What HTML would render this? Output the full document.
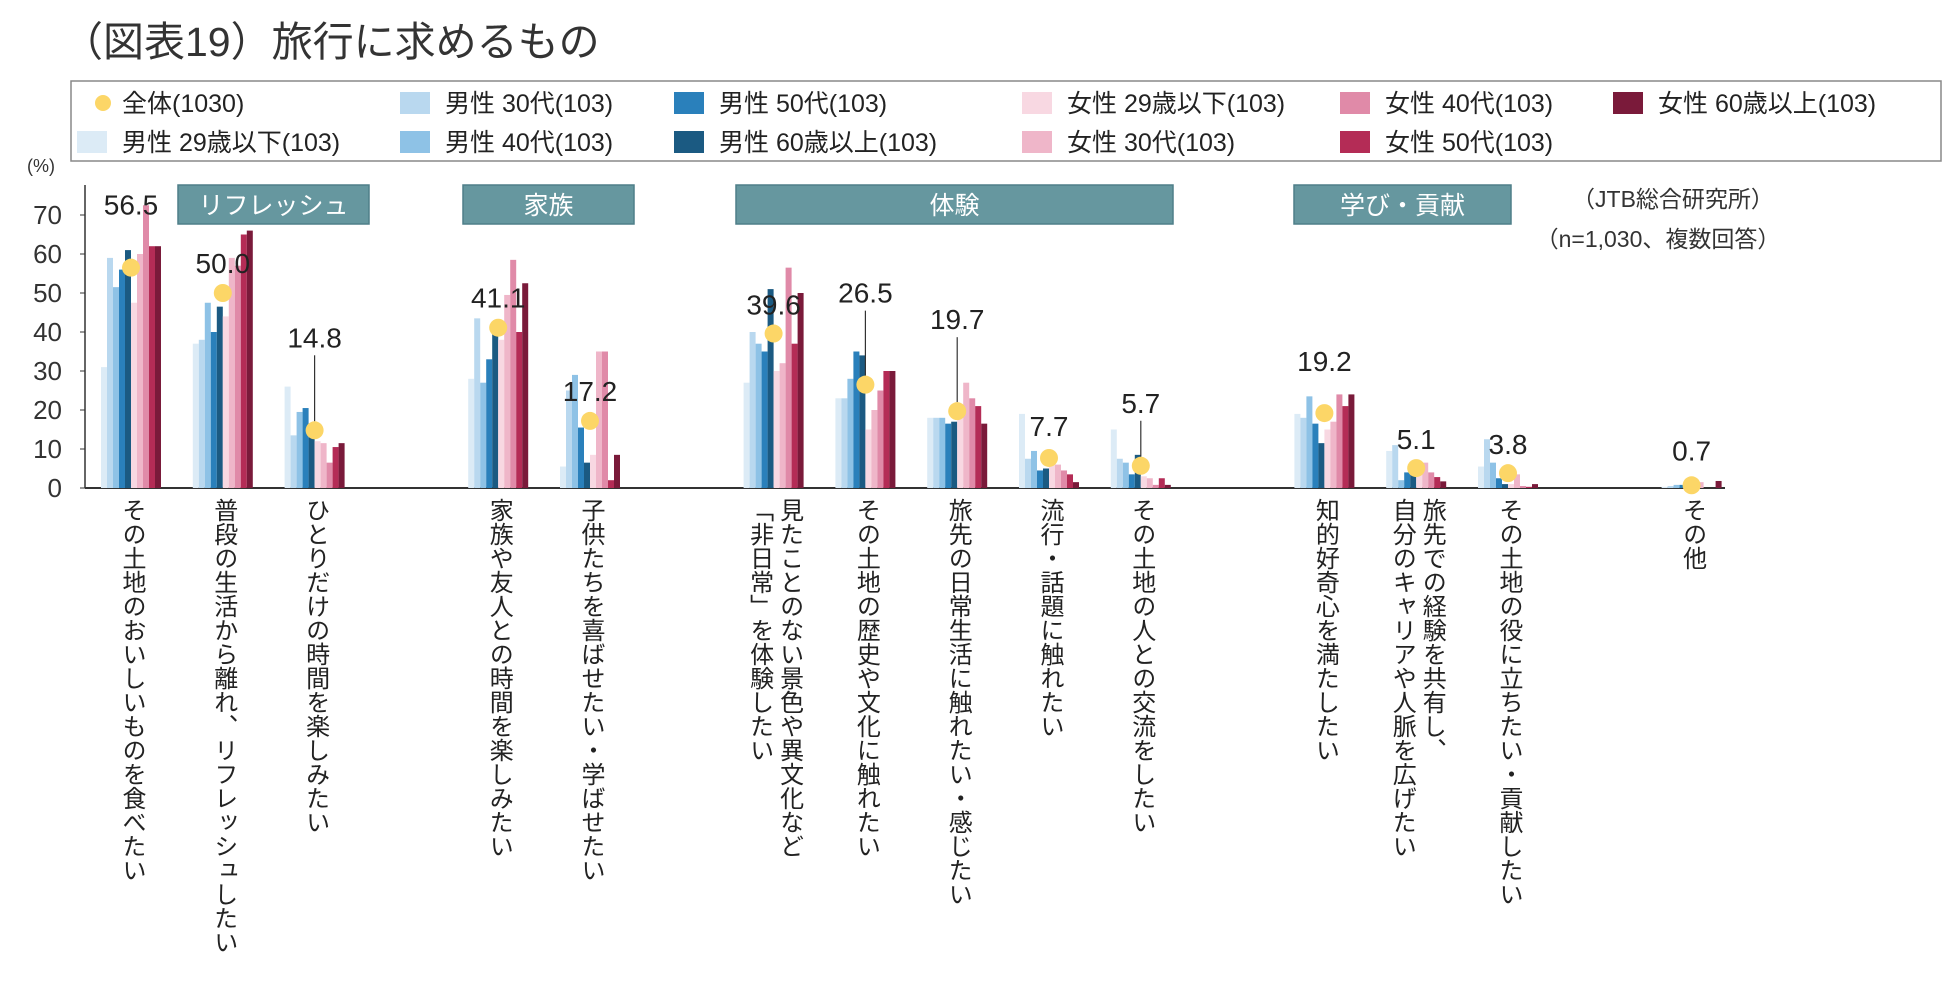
<!DOCTYPE html>
<html><head><meta charset="utf-8">
<style>
body{margin:0;background:#fff;width:1950px;height:990px;overflow:hidden;font-family:"Liberation Sans","Noto Sans CJK JP",sans-serif;color:#222}
svg text{font-family:"Liberation Sans","Noto Sans CJK JP",sans-serif}
</style></head><body>
<svg id="chart" width="1950" height="990">
<text x="62" y="56" font-size="41" fill="#333">（図表19）旅行に求めるもの</text>
<rect x="71" y="81" width="1870" height="80" fill="#fff" stroke="#888" stroke-width="1.5"/>
<g id="legend"></g>
<g id="headers"></g>
<text x="1673" y="207" font-size="23" text-anchor="middle" fill="#333">（JTB総合研究所）</text>
<text x="1658" y="247" font-size="23" text-anchor="middle" fill="#333">（n=1,030、複数回答）</text>
<text x="27" y="172" font-size="18" fill="#333">(%)</text>
<g id="yaxis"></g>
<g id="bars"></g>
<g id="overall"></g>
</svg>
<div id="cats"></div>
<script>
const categories=["その土地のおいしいものを食べたい","普段の生活から離れ、リフレッシュしたい","ひとりだけの時間を楽しみたい","家族や友人との時間を楽しみたい","子供たちを喜ばせたい・学ばせたい","見たことのない景色や異文化など<br>「非日常」を体験したい","その土地の歴史や文化に触れたい","旅先の日常生活に触れたい・感じたい","流行・話題に触れたい","その土地の人との交流をしたい","知的好奇心を満たしたい","旅先での経験を共有し、<br>自分のキャリアや人脈を広げたい","その土地の役に立ちたい・貢献したい","その他"];
const groupOf=[0,0,0,1,1,2,2,2,2,2,3,3,3,4];
const seriesNames=["男性 29歳以下(103)","男性 30代(103)","男性 40代(103)","男性 50代(103)","男性 60歳以上(103)","女性 29歳以下(103)","女性 30代(103)","女性 40代(103)","女性 50代(103)","女性 60歳以上(103)"];
const m29=[31,37,26,28,5.5,27,23,18,19,15,19,9.5,5.5,0.3];
const m30=[59,38,13.5,43.5,25,40,23,18,7.5,7.5,18,11,12.5,0.5];
const m40=[51.5,47.5,19.5,27,29,37,28,18,9.5,6.5,23.5,2,6.5,0.8];
const m50=[56,40,20.5,33,15.5,35,35,16.5,4.5,3.5,16.5,4,2.5,0.8];
const m60=[61,46.5,13,40,6.5,51,34,17,5,8.5,11.5,3.5,1,0];
const f29=[47.5,44,12,38,8.5,30,15,20,6,3,15,6,1,0.5];
const f30=[60,59,11.5,49.5,35,32,20,27,6,2.5,17,6.5,3.5,1.5];
const f40=[72.5,57,6.5,58.5,35,56.5,25,23,4.5,0.8,24,4,0.5,0];
const f50=[62,65,10.5,40,2,37,30,21,3.5,2.5,21,2.8,0.3,0];
const f60=[62,66,11.5,52.5,8.5,50,30,16.5,1.5,0.8,24,1.7,1,1.8];
const series=[m29,m30,m40,m50,m60,f29,f30,f40,f50,f60];
const overall=[56.5,50.0,14.8,41.1,17.2,39.6,26.5,19.7,7.7,5.7,19.2,5.1,3.8,0.7];
const yTicks=[0,10,20,30,40,50,60,70];
const colors=["#dcebf6","#b9d8ef","#8ec2e6","#2a80bb","#1b5a82","#f8d8e2","#efb6c9","#e08aa8","#b42c56","#7a1a3a"];
const headers=[["リフレッシュ",178,369],["家族",463,634],["体験",736,1173],["学び・貢献",1294,1511]];
// label distance above dot and leader flag (layout only)
const labelGap=[53,20,83,20,20,19,82,82,22,53,42,19,19,25];
const leader=[0,0,1,0,0,0,1,1,0,1,0,0,0,0];

const NS="http://www.w3.org/2000/svg";
const y0=488, pxPer=3.9;
const Y=v=>y0-v*pxPer;
const X=i=>131+(i+groupOf[i])*91.8;
function el(t,a,p){const e=document.createElementNS(NS,t);for(const k in a)e.setAttribute(k,a[k]);p.appendChild(e);return e;}

const ya=document.getElementById('yaxis');
let ax=el('line',{x1:85,y1:185,x2:85,y2:y0,stroke:'#333','stroke-width':1.5},ya);

let xl=el('line',{x1:85,y1:y0,x2:1725,y2:y0,stroke:'#333','stroke-width':2},ya);

yTicks.forEach(t=>{
  const tx=el('text',{x:62,y:Y(t)+9,'font-size':26,'text-anchor':'end',fill:'#333'},ya);tx.textContent=t;
  
  const tk=el('line',{x1:80,y1:Y(t),x2:85,y2:Y(t),stroke:'#333'},ya);
  
});

const bg=document.getElementById('bars');
categories.forEach((c,i)=>{
  series.forEach((s,j)=>{
    const r=el('rect',{x:X(i)-30+j*6,y:Y(s[i]),width:6,height:s[i]*pxPer,fill:colors[j]},bg);
    
  });
});

const og=document.getElementById('overall');
overall.forEach((v,i)=>{
  const cx=X(i), cy=Y(v), ty=cy-labelGap[i];
  if(leader[i]){
    const ln=el('line',{x1:cx,y1:ty+8,x2:cx,y2:cy-9,stroke:'#333','stroke-width':1.2},og);
    
  }
  const d=el('circle',{cx:cx,cy:cy,r:9,fill:'#fcd667'},og);
  
  const t=el('text',{x:cx,y:ty,'font-size':28,'text-anchor':'middle',fill:'#222'},og);
  t.textContent=v.toFixed(1);
  
});

const lg=document.getElementById('legend');
const lcols=[[87,103],[87,142],[410,103],[410,142],[684,103],[684,142],[1032,103],[1032,142],[1350,103],[1350,142],[1623,103]];
(function(){
  const g=el('g',{},lg);
  el('circle',{cx:103,cy:103,r:8,fill:'#fcd667'},g);
  const t=el('text',{x:122,y:112,'font-size':25,fill:'#222'},g);t.textContent='全体(1030)';
})();
seriesNames.forEach((n,j)=>{
  const p=lcols[j+1];
  const g=el('g',{},lg);
  
  
  el('rect',{x:p[0]-10,y:p[1]-11,width:30,height:22,fill:colors[j]},g);
  const t=el('text',{x:p[0]+35,y:p[1]+9,'font-size':25,fill:'#222'},g);t.textContent=n;
});

const hg=document.getElementById('headers');
headers.forEach(h=>{
  const r=el('rect',{x:h[1],y:185,width:h[2]-h[1],height:39,fill:'#66979f',stroke:'#4f7f88','stroke-width':1.5},hg);
  
  const t=el('text',{x:(h[1]+h[2])/2,y:214,'font-size':25,'text-anchor':'middle',fill:'#fff'},hg);t.textContent=h[0];
  
});

const cd=document.getElementById('cats');
categories.forEach((c,i)=>{
  const d=document.createElement('div');
  
  
  d.innerHTML=c;
  const twoCol=c.includes('<br>');
  d.style.cssText='position:absolute;top:498px;height:490px;writing-mode:vertical-rl;font-size:24px;line-height:30px;color:#222;white-space:nowrap;left:'+(X(i)-(twoCol?30:15))+'px;';
  cd.appendChild(d);
});
</script>
</body></html>
